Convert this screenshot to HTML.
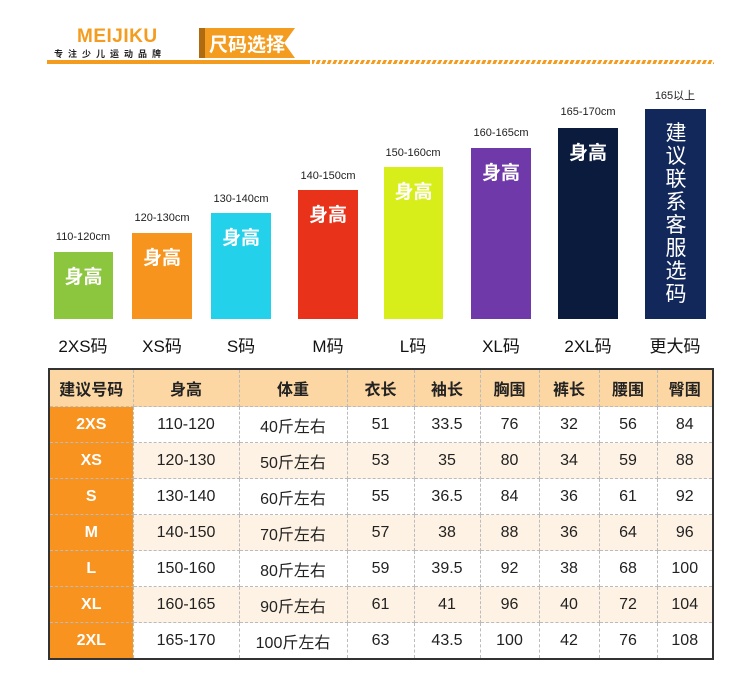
<!DOCTYPE html>
<html><head><meta charset="utf-8"><style>
body{margin:0;width:750px;height:675px;background:#fff;position:relative;overflow:hidden;font-family:"Liberation Sans","Noto Sans CJK SC",sans-serif;}
.a{position:absolute}
.bar{position:absolute;bottom:356px}
.bt{position:absolute;width:100%;text-align:center;color:#fff;font-weight:bold;font-size:19px;top:10px}
.cm{position:absolute;font-size:11px;color:#222;text-align:center;width:90px}
.sz{position:absolute;top:332px;font-size:17px;color:#111;text-align:center;width:90px}
table{position:absolute;left:48px;top:368px;border-collapse:collapse;border:2px solid #333;}
td{border:1px dashed #bbb;text-align:center;font-size:16px;color:#222;height:35px;padding:0}
tr.h td{background:#fcd7a3;font-weight:bold;font-size:16px;height:36px}
tr.c td{background:#fdf2e4}
td.f{background:#f7931e!important;color:#fff;font-weight:bold;font-size:16px}
</style></head><body>
<div class="a" style="left:77px;top:26px;font-size:19px;color:#f39c1f;font-weight:bold;letter-spacing:0.5px">MEIJIKU</div>
<div class="a" style="left:54px;top:47px;font-size:9px;color:#222;font-weight:bold;letter-spacing:5px">专注少儿运动品牌</div>
<div class="a" style="left:199px;top:28px;width:6px;height:30px;background:#b06a10"></div>
<div class="a" style="left:205px;top:28px;width:90px;height:30px;background:#f39c1f;clip-path:polygon(0 0,100% 0,88% 50%,100% 100%,0 100%)"></div>
<div class="a" style="left:209px;top:30px;font-size:19px;color:#fff;font-weight:bold">尺码选择</div>
<div class="a" style="left:47px;top:60px;width:263px;height:4px;background:#f39c1f"></div>
<div class="a" style="left:312px;top:60px;width:402px;height:4px;background:repeating-linear-gradient(115deg,#f39c1f 0 3px,#fff 3px 5px)"></div>

<div class="bar" style="left:54px;width:59px;height:67px;background:#8cc63f"><div class="bt">身高</div></div>
<div class="bar" style="left:132px;width:60px;height:86px;background:#f7941d"><div class="bt">身高</div></div>
<div class="bar" style="left:211px;width:60px;height:106px;background:#23d1ea"><div class="bt">身高</div></div>
<div class="bar" style="left:298px;width:60px;height:129px;background:#e8321a"><div class="bt">身高</div></div>
<div class="bar" style="left:384px;width:59px;height:152px;background:#d7ee1a"><div class="bt">身高</div></div>
<div class="bar" style="left:471px;width:60px;height:171px;background:#7039a9"><div class="bt">身高</div></div>
<div class="bar" style="left:558px;width:60px;height:191px;background:#0b1b3e"><div class="bt">身高</div></div>
<div class="bar" style="left:645px;width:61px;height:210px;background:#12275a"><div class="bt" style="font-size:21px;line-height:23px;width:22px;left:20px;top:13px;font-weight:normal">建议联系客服选码</div></div>

<div class="cm" style="left:38px;top:231px">110-120cm</div>
<div class="cm" style="left:117px;top:212px">120-130cm</div>
<div class="cm" style="left:196px;top:193px">130-140cm</div>
<div class="cm" style="left:283px;top:170px">140-150cm</div>
<div class="cm" style="left:368px;top:147px">150-160cm</div>
<div class="cm" style="left:456px;top:127px">160-165cm</div>
<div class="cm" style="left:543px;top:106px">165-170cm</div>
<div class="cm" style="left:630px;top:87px">165以上</div>

<div class="sz" style="left:38px">2XS码</div>
<div class="sz" style="left:117px">XS码</div>
<div class="sz" style="left:196px">S码</div>
<div class="sz" style="left:283px">M码</div>
<div class="sz" style="left:368px">L码</div>
<div class="sz" style="left:456px">XL码</div>
<div class="sz" style="left:543px">2XL码</div>
<div class="sz" style="left:630px">更大码</div>

<table>
<colgroup><col style="width:84px"><col style="width:106px"><col style="width:108px"><col style="width:67px"><col style="width:66px"><col style="width:59px"><col style="width:60px"><col style="width:58px"><col style="width:56px"></colgroup>
<tr class="h"><td>建议号码</td><td>身高</td><td>体重</td><td>衣长</td><td>袖长</td><td>胸围</td><td>裤长</td><td>腰围</td><td>臀围</td></tr>
<tr><td class="f">2XS</td><td>110-120</td><td>40斤左右</td><td>51</td><td>33.5</td><td>76</td><td>32</td><td>56</td><td>84</td></tr>
<tr class="c"><td class="f">XS</td><td>120-130</td><td>50斤左右</td><td>53</td><td>35</td><td>80</td><td>34</td><td>59</td><td>88</td></tr>
<tr><td class="f">S</td><td>130-140</td><td>60斤左右</td><td>55</td><td>36.5</td><td>84</td><td>36</td><td>61</td><td>92</td></tr>
<tr class="c"><td class="f">M</td><td>140-150</td><td>70斤左右</td><td>57</td><td>38</td><td>88</td><td>36</td><td>64</td><td>96</td></tr>
<tr><td class="f">L</td><td>150-160</td><td>80斤左右</td><td>59</td><td>39.5</td><td>92</td><td>38</td><td>68</td><td>100</td></tr>
<tr class="c"><td class="f">XL</td><td>160-165</td><td>90斤左右</td><td>61</td><td>41</td><td>96</td><td>40</td><td>72</td><td>104</td></tr>
<tr><td class="f">2XL</td><td>165-170</td><td>100斤左右</td><td>63</td><td>43.5</td><td>100</td><td>42</td><td>76</td><td>108</td></tr>
</table>
</body></html>
